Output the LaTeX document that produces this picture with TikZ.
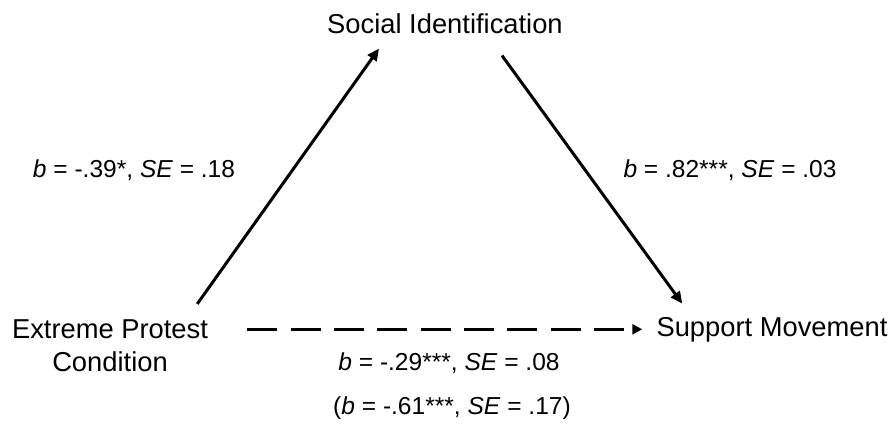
\documentclass[tikz,border=0pt]{standalone}
\usepackage{fontspec}
\setmainfont{Liberation Sans}
\usetikzlibrary{arrows.meta, positioning, calc}

\begin{document}
\begin{tikzpicture}[x=0.75pt, y=-0.75pt,
    var/.style={inner sep=0pt, align=center, font=\fontsize{20.5}{24.75}\selectfont},
    coef/.style={inner sep=0pt, font=\fontsize{18.4}{22}\selectfont},
    path/.style={line width=2.25pt, -{Triangle[length=9pt, width=8pt]}},
    direct/.style={line width=2.6pt, dash pattern=on 22.5pt off 10pt,
                   -{Triangle[length=7.5pt, width=7.5pt]}}]
  \useasboundingbox (0,0) rectangle (893,425);
  % variables
  \node[var, anchor=base] (soc) at (445,33) {Social Identification};
  \node[var, anchor=base] (ext) at (110,371) {Extreme Protest\\Condition};
  \node[var, anchor=base] (sup) at (772,336) {Support Movement};
  % a and b paths
  \draw[path] ($(ext.north east)+(-11,-15)$) -- ($(soc.south)+(-66,15)$);
  \draw[path] ($(soc.south)+(57,22)$) -- ($(sup.north west)+(26,-13)$);
  \node[coef, anchor=base] (a) at (134,177) {\textit{b} = -.39*, \textit{SE} = .18};
  \node[coef, anchor=base] (b) at (730,177) {\textit{b} = .82***, \textit{SE} = .03};
  % direct effect (total effect in brackets)
  \coordinate (dstart) at ($(ext.north east)+(39,0)$);
  \draw[direct] (dstart |- sup.west) -- ($(sup.west)+(-14,0)$);
  \node[coef, anchor=base] (c1) at (449,370) {\textit{b} = -.29***, \textit{SE} = .08};
  \node[coef, anchor=base] (c2) at (452,414) {(\textit{b} = -.61***, \textit{SE} = .17)};
\end{tikzpicture}
\end{document}
